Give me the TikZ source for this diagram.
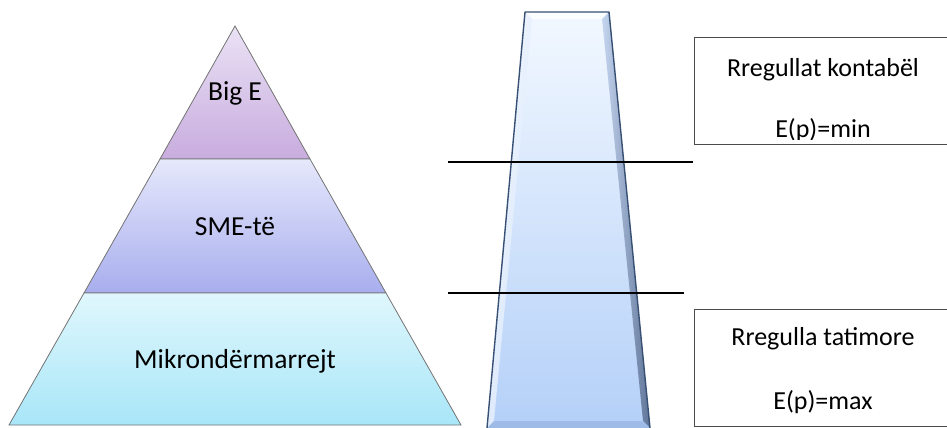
\documentclass[tikz,border=0pt]{standalone}
\usepackage{fontspec}
\setmainfont{Carlito}
\definecolor{p1t}{RGB}{234,226,245}
\definecolor{p1b}{RGB}{200,172,222}
\definecolor{p2t}{RGB}{230,232,251}
\definecolor{p2b}{RGB}{168,174,238}
\definecolor{p3t}{RGB}{224,247,253}
\definecolor{p3b}{RGB}{168,230,248}
\definecolor{ct}{RGB}{242,248,255}
\definecolor{cb}{RGB}{180,208,248}
\definecolor{cl}{RGB}{225,236,252}
\definecolor{cr1}{RGB}{190,208,238}
\definecolor{cr2}{RGB}{80,100,135}
\definecolor{cbot}{RGB}{150,178,225}
\definecolor{cedge}{RGB}{55,80,115}
\begin{document}
\begin{tikzpicture}[x=1pt,y=-1pt,
  lbl/.style={anchor=base, inner sep=0pt, font=\fontsize{27.5}{32}\selectfont},
  blbl/.style={anchor=base, inner sep=0pt, font=\fontsize{26}{30}\selectfont},
  band/.style={draw=black!55, line width=0.8pt},
  sep/.style={draw=black, line width=1.1pt},
  tbox/.style={draw=black!70, line width=0.9pt, anchor=north west, minimum width=258pt, inner sep=0pt}]
\useasboundingbox (0,0) rectangle (947,428);
\clip (0,0) rectangle (947,428);
% pyramid
\shade[band, top color=p1t, bottom color=p1b]
  (235,26) -- (310,159) -- (160,159) -- cycle;
\shade[band, top color=p2t, bottom color=p2b]
  (160,159) -- (310,159) -- (386,293) -- (84,293) -- cycle;
\shade[band, top color=p3t, bottom color=p3b]
  (84,293) -- (386,293) -- (461,425) -- (9,425) -- cycle;
\node[lbl] (bige) at (235,100) {Big E};
\node[lbl] (sme) at (235,235) {SME-të};
\node[lbl] (mikro) at (235,368) {Mikrondërmarrejt};
% trapezoid column with bevel
\shade[top color=ct, bottom color=cb]
  (525,12) -- (609,12) -- (650,428) -- (487,428) -- cycle;
\fill[white, opacity=0.8] (525,12) -- (609,12) -- (602,19) -- (532,19) -- cycle;
\shade[left color=white, right color=cl, opacity=0.6]
  (525,12) -- (532,19) -- (494,421) -- (487,428) -- cycle;
\shade[left color=cr1, right color=cr2, opacity=0.85]
  (609,12) -- (650,428) -- (643,421) -- (602,19) -- cycle;
\fill[cbot, opacity=0.7] (494,421) -- (643,421) -- (650,428) -- (487,428) -- cycle;
\draw[cedge, line width=1.4pt, line join=round]
  (487,428) -- (525,12) -- (609,12) -- (650,428);
% separator lines
\coordinate (s1a) at (448,162);
\coordinate (s1b) at (693,162);
\coordinate (s2a) at (448,293);
\coordinate (s2b) at (684,293);
\draw[sep] (s1a) -- (s1b);
\draw[sep] (s2a) -- (s2b);
% boxes
\node[tbox, minimum height=107pt] (box1) at (694,37) {};
\node[tbox, minimum height=117pt] (box2) at (694,309) {};
\node[blbl] (r1) at (823,77) {Rregullat kontabël};
\begin{scope}
\clip (694,37) rectangle (952,139.5);
\node[blbl] (e1) at (823,137.5) {E(p)=min};
\end{scope}
\node[blbl] (r2) at (823,345) {Rregulla tatimore};
\node[blbl] (e2) at (823,409) {E(p)=max};
\end{tikzpicture}
\end{document}
